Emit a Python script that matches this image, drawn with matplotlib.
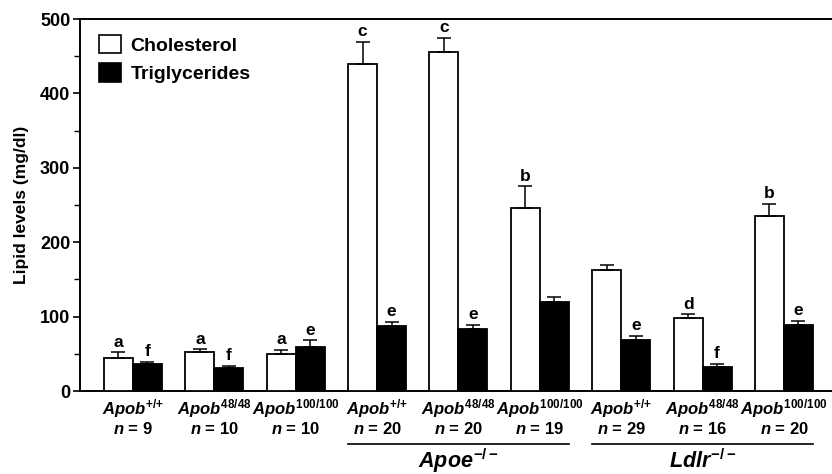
import matplotlib
matplotlib.use("Agg")
import matplotlib.pyplot as plt
import matplotlib.transforms as mtransforms
from matplotlib.patches import Patch
import numpy as np

plt.rcParams["font.family"] = ["Liberation Sans", "DejaVu Sans"]
plt.rcParams["font.weight"] = "bold"
plt.rcParams["mathtext.fontset"] = "custom"
plt.rcParams["mathtext.rm"] = "Liberation Sans:bold"
plt.rcParams["mathtext.it"] = "Liberation Sans:italic:bold"
plt.rcParams["mathtext.bf"] = "Liberation Sans:bold"

# ---- data ----
genotypes = ["{+}/{+}", "48/48", "100/100"] * 3
n_mice = [9, 10, 10, 20, 20, 19, 29, 16, 20]
chol = [45, 52, 50, 439, 456, 246, 162, 98, 235]
chol_err = [7, 4, 5, 30, 19, 29, 7, 5, 16]
trig = [36, 31, 59, 87, 83, 120, 68, 32, 89]
trig_err = [3, 3, 9, 6, 6, 7, 6, 4, 5]
chol_letters = ["a", "a", "a", "c", "c", "b", "", "d", "b"]
trig_letters = ["f", "f", "e", "e", "e", "", "e", "f", "e"]
backgrounds = [(r"$Apoe^{-/-}$", 3, 5), (r"$Ldlr^{-/-}$", 6, 8)]

x = np.arange(len(chol))
w = 0.356

fig = plt.figure(figsize=(8.32, 4.74), dpi=100)
ax = fig.add_axes([0.0962, 0.1751, 0.9038, 0.7848])

ekw = dict(ecolor="k", elinewidth=1.1, capsize=5, capthick=1.1)
ax.bar(x - w / 2, chol, w, color="white", edgecolor="k", linewidth=1.3,
       yerr=[np.zeros(len(chol)), chol_err], error_kw=ekw, zorder=3)
ax.bar(x + w / 2, trig, w, color="black", edgecolor="k", linewidth=1.3,
       yerr=[np.zeros(len(trig)), trig_err], error_kw=ekw, zorder=3)

for xi, m, e, lab in zip(x - w / 2, chol, chol_err, chol_letters):
    if lab:
        ax.annotate(lab, (xi, m + e), xytext=(0, 2), textcoords="offset points",
                    ha="center", va="bottom", fontsize=12.5, fontweight="bold")
for xi, m, e, lab in zip(x + w / 2, trig, trig_err, trig_letters):
    if lab:
        ax.annotate(lab, (xi, m + e), xytext=(0, 2), textcoords="offset points",
                    ha="center", va="bottom", fontsize=12.5, fontweight="bold")

ax.set_xlim(-0.65, 8.59)
ax.set_ylim(0, 500)
ax.set_yticks(np.arange(0, 501, 100))
ax.set_yticks(np.arange(50, 500, 100), minor=True)
ax.tick_params(axis="y", which="major", length=5, width=1.2, labelsize=13, pad=2)
ax.tick_params(axis="y", which="minor", length=4, width=1.0)
ax.set_xticks([])
ax.spines["right"].set_visible(False)
for s in ["left", "bottom", "top"]:
    ax.spines[s].set_linewidth(1.4)
ax.set_ylabel("Lipid levels (mg/dl)", fontsize=12.5, fontweight="bold", labelpad=8)

trans = mtransforms.blended_transform_factory(ax.transData, ax.transAxes)
for xi, g, n in zip(x, genotypes, n_mice):
    ax.text(xi, -0.048, r"$Apob^{%s}$" % g, transform=trans, ha="center",
            va="center", fontsize=12)
    ax.text(xi, -0.102, r"$n$ = %d" % n, transform=trans, ha="center",
            va="center", fontsize=12)

for lab, a, b in backgrounds:
    ax.plot([a - w, b + w], [-0.1425, -0.1425], color="k", lw=1.2,
            transform=trans, clip_on=False)
    ax.text((a + b) / 2, -0.188, lab, transform=trans, ha="center",
            va="center", fontsize=15.5)

handles = [Patch(facecolor="white", edgecolor="k", linewidth=1.2, label="Cholesterol"),
           Patch(facecolor="black", edgecolor="k", linewidth=1.2, label="Triglycerides")]
ax.legend(handles=handles, loc="upper left", bbox_to_anchor=(0.0, 1.01),
          frameon=False, prop={"size": 14, "weight": "bold"},
          handlelength=1.1, handleheight=1.1, handletextpad=0.5,
          labelspacing=0.45, borderaxespad=0.6)

fig.savefig("out.png", dpi=100)
